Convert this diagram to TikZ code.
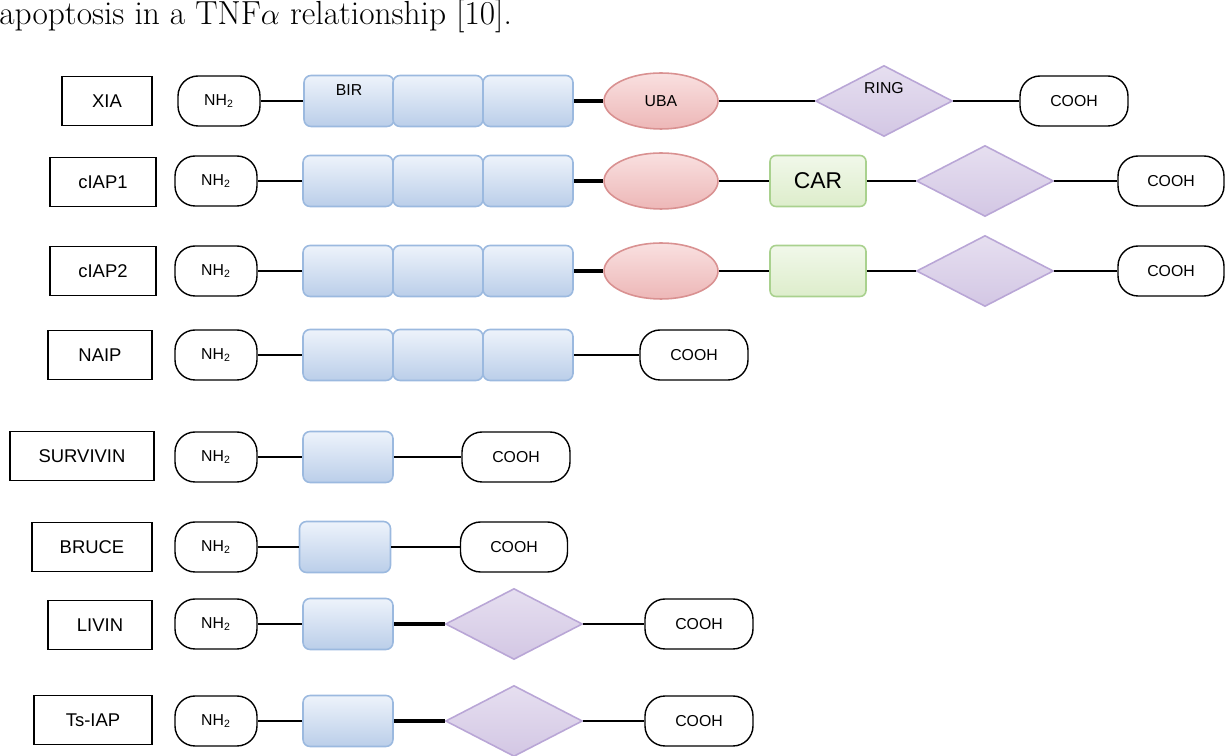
\documentclass[tikz,border=0pt]{standalone}
\usepackage{fontspec}
\newfontfamily\arial{Liberation Sans}
\usetikzlibrary{shapes.geometric}

\definecolor{birtop}{HTML}{EEF3FB}
\definecolor{birbot}{HTML}{BACEE9}
\definecolor{birline}{HTML}{9BB9DF}
\definecolor{ubatop}{HTML}{F9E0E0}
\definecolor{ubabot}{HTML}{EDB7B7}
\definecolor{ubaline}{HTML}{D99191}
\definecolor{ringtop}{HTML}{E6DFF0}
\definecolor{ringbot}{HTML}{D3C7E4}
\definecolor{ringline}{HTML}{B9A6D6}
\definecolor{cartop}{HTML}{F1F8EA}
\definecolor{carbot}{HTML}{DDEDCB}
\definecolor{carline}{HTML}{A9D18E}

\tikzset{
  namebox/.style={draw, line width=0.8pt, minimum height=0.98cm, inner sep=0pt, font=\arial\fontsize{10.5}{12}\selectfont},
  term/.style={draw, line width=0.8pt, rounded corners=0.4cm, minimum height=1cm, inner sep=0pt, font=\arial\fontsize{9}{11}\selectfont},
  bir/.style={draw=birline, line width=0.9pt, top color=birtop, bottom color=birbot, rounded corners=0.14cm, minimum width=1.8cm, minimum height=1.02cm, inner sep=0pt},
  uba/.style={ellipse, draw=ubaline, line width=0.9pt, top color=ubatop, bottom color=ubabot, minimum width=2.28cm, minimum height=1.12cm, inner sep=0pt, font=\arial\fontsize{9}{11}\selectfont},
  ring/.style={diamond, draw=ringline, line width=0.9pt, top color=ringtop, bottom color=ringbot, minimum width=2.74cm, minimum height=1.42cm, inner sep=0pt},
  car/.style={draw=carline, line width=0.9pt, top color=cartop, bottom color=carbot, rounded corners=0.12cm, minimum width=1.92cm, minimum height=1.02cm, inner sep=0pt, font=\arial\fontsize{13}{15}\selectfont},
  tag/.style={font=\arial\fontsize{9}{11}\selectfont},
  link/.style={line width=0.8pt},
  boldlink/.style={line width=2pt}
}

\begin{document}
\begin{tikzpicture}[x=0.02cm, y=-0.02cm]
  \useasboundingbox (0,0) rectangle (1228,756);
  \node[anchor=base west, inner sep=0pt, font=\fontsize{19}{22}\selectfont] (caption) at (-1,25) {apoptosis in a TNF$\alpha$ relationship [10].};

  % XIA
  \node[namebox, minimum width=1.8cm] (XIA) at (107,101) {XIA};
  \node[term, minimum width=1.64cm] (XN) at (219,101) {NH\textsubscript{2}};
  \node[bir, label={[tag, yshift=0.22cm]center:BIR}] (XB1) at (349,101) {};
  \node[bir] (XB2) at (438,101) {};
  \node[bir] (XB3) at (528,101) {};
  \node[uba] (XU) at (661,101) {UBA};
  \node[ring, label={[tag, yshift=0.26cm]center:RING}] (XR) at (884,101) {};
  \node[term, minimum width=2.16cm] (XC) at (1074,101) {COOH};
  \draw[link] (XN) -- (XB1);
  \draw[boldlink] (XB3) -- (XU);
  \draw[link] (XU) -- (XR);
  \draw[link] (XR) -- (XC);

  % cIAP1
  \node[namebox, minimum width=2.12cm] (CA1) at (103,182) {cIAP1};
  \node[term, minimum width=1.64cm] (CA1N) at (216,181) {NH\textsubscript{2}};
  \node[bir] (CA1B1) at (348,181) {};
  \node[bir] (CA1B2) at (438,181) {};
  \node[bir] (CA1B3) at (528,181) {};
  \node[uba] (CA1U) at (661,181) {};
  \node[car] (CA1K) at (818,181) {CAR};
  \node[ring] (CA1R) at (985,181) {};
  \node[term, minimum width=2.12cm] (CA1C) at (1171,181) {COOH};
  \draw[link] (CA1N) -- (CA1B1);
  \draw[boldlink] (CA1B3) -- (CA1U);
  \draw[link] (CA1U) -- (CA1K);
  \draw[link] (CA1K) -- (CA1R);
  \draw[link] (CA1R) -- (CA1C);

  % cIAP2
  \node[namebox, minimum width=2.12cm] (CA2) at (103,271) {cIAP2};
  \node[term, minimum width=1.64cm] (CA2N) at (216,271) {NH\textsubscript{2}};
  \node[bir] (CA2B1) at (348,271) {};
  \node[bir] (CA2B2) at (438,271) {};
  \node[bir] (CA2B3) at (528,271) {};
  \node[uba] (CA2U) at (661,271) {};
  \node[car] (CA2K) at (818,271) {};
  \node[ring] (CA2R) at (985,271) {};
  \node[term, minimum width=2.12cm] (CA2C) at (1171,271) {COOH};
  \draw[link] (CA2N) -- (CA2B1);
  \draw[boldlink] (CA2B3) -- (CA2U);
  \draw[link] (CA2U) -- (CA2K);
  \draw[link] (CA2K) -- (CA2R);
  \draw[link] (CA2R) -- (CA2C);

  % NAIP
  \node[namebox, minimum width=2.08cm] (NA) at (100,355) {NAIP};
  \node[term, minimum width=1.64cm] (NAN) at (216,355) {NH\textsubscript{2}};
  \node[bir] (NAB1) at (348,355) {};
  \node[bir] (NAB2) at (438,355) {};
  \node[bir] (NAB3) at (528,355) {};
  \node[term, minimum width=2.16cm] (NAC) at (694,355) {COOH};
  \draw[link] (NAN) -- (NAB1);
  \draw[link] (NAB3) -- (NAC);

  % SURVIVIN
  \node[namebox, minimum width=2.88cm] (SU) at (82,456) {SURVIVIN};
  \node[term, minimum width=1.64cm] (SUN) at (216,457) {NH\textsubscript{2}};
  \node[bir] (SUB) at (348,457) {};
  \node[term, minimum width=2.16cm] (SUC) at (516,457) {COOH};
  \draw[link] (SUN) -- (SUB);
  \draw[link] (SUB) -- (SUC);

  % BRUCE
  \node[namebox, minimum width=2.4cm] (BR) at (92,547) {BRUCE};
  \node[term, minimum width=1.64cm] (BRN) at (216,547) {NH\textsubscript{2}};
  \node[bir, minimum width=1.82cm] (BRB) at (345,547) {};
  \node[term, minimum width=2.14cm] (BRC) at (514,547) {COOH};
  \draw[link] (BRN) -- (BRB);
  \draw[link] (BRB) -- (BRC);

  % LIVIN
  \node[namebox, minimum width=2.08cm] (LI) at (100,625) {LIVIN};
  \node[term, minimum width=1.64cm] (LIN) at (216,624) {NH\textsubscript{2}};
  \node[bir] (LIB) at (348,624) {};
  \node[ring] (LIR) at (514,624) {};
  \node[term, minimum width=2.16cm] (LIC) at (699,624) {COOH};
  \draw[link] (LIN) -- (LIB);
  \draw[boldlink] (LIB) -- (LIR);
  \draw[link] (LIR) -- (LIC);

  % Ts-IAP
  \node[namebox, minimum width=2.36cm] (TS) at (93,720) {Ts-IAP};
  \node[term, minimum width=1.64cm] (TSN) at (216,721) {NH\textsubscript{2}};
  \node[bir] (TSB) at (348,721) {};
  \node[ring] (TSR) at (514,721) {};
  \node[term, minimum width=2.16cm] (TSC) at (699,721) {COOH};
  \draw[link] (TSN) -- (TSB);
  \draw[boldlink] (TSB) -- (TSR);
  \draw[link] (TSR) -- (TSC);
\end{tikzpicture}
\end{document}
